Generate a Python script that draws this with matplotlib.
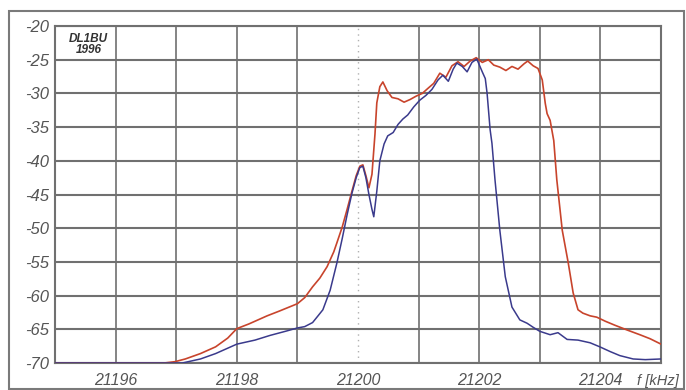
import matplotlib.pyplot as plt
from matplotlib.patches import Rectangle
from matplotlib.transforms import blended_transform_factory

# Spektrum rot (breit) und blau (schmal), f in kHz, Pegel in dB
f_rot = [21195.0, 21196.8, 21196.98, 21197.15, 21197.4, 21197.65, 21197.85, 21198.0,
         21198.2, 21198.5, 21198.7, 21199.0, 21199.12, 21199.25, 21199.37, 21199.49,
         21199.6, 21199.65, 21199.74, 21199.82, 21199.9, 21199.97, 21200.03, 21200.08,
         21200.13, 21200.18, 21200.23, 21200.28, 21200.31, 21200.36, 21200.41, 21200.48,
         21200.56, 21200.66, 21200.76, 21200.86, 21200.96, 21201.06, 21201.16, 21201.25,
         21201.35, 21201.45, 21201.55, 21201.65, 21201.75, 21201.85, 21201.95, 21202.05,
         21202.15, 21202.24, 21202.34, 21202.44, 21202.54, 21202.64, 21202.74, 21202.8,
         21202.89, 21202.97, 21203.04, 21203.09, 21203.12, 21203.17, 21203.23, 21203.28,
         21203.37, 21203.47, 21203.55, 21203.63, 21203.71, 21203.83, 21203.94, 21204.08,
         21204.24, 21204.44, 21204.65, 21204.82, 21205.0]
p_rot = [-70.0, -70.0, -69.8, -69.4, -68.6, -67.6, -66.3, -64.9,
         -64.2, -63.0, -62.3, -61.2, -60.3, -58.7, -57.4, -55.7,
         -53.5, -52.2, -49.8, -47.2, -44.5, -42.2, -40.8, -40.6,
         -42.2, -44.0, -42.0, -36.0, -31.4, -29.0, -28.3, -29.6,
         -30.6, -30.8, -31.3, -30.9, -30.4, -30.0, -29.2, -28.5,
         -27.0, -27.6, -25.9, -25.3, -26.0, -25.2, -24.7, -25.4,
         -25.0, -25.8, -26.1, -26.6, -26.0, -26.4, -25.6, -25.2,
         -25.9, -26.3, -28.0, -31.5, -33.0, -34.0, -37.0, -42.8,
         -50.3, -55.2, -59.6, -62.1, -62.6, -63.0, -63.2, -63.8,
         -64.4, -65.1, -65.8, -66.4, -67.2]

f_blau = [21195.0, 21197.1, 21197.4, 21197.65, 21198.0, 21198.3, 21198.55, 21198.8,
          21199.0, 21199.12, 21199.25, 21199.34, 21199.42, 21199.54, 21199.65, 21199.74,
          21199.82, 21199.9, 21199.97, 21200.03, 21200.08, 21200.13, 21200.18, 21200.23,
          21200.26, 21200.31, 21200.36, 21200.43, 21200.49, 21200.58, 21200.66, 21200.74,
          21200.82, 21200.92, 21201.02, 21201.12, 21201.22, 21201.32, 21201.4, 21201.49,
          21201.57, 21201.63, 21201.72, 21201.8, 21201.88, 21201.96, 21202.05, 21202.1,
          21202.13, 21202.18, 21202.21, 21202.26, 21202.34, 21202.43, 21202.54, 21202.67,
          21202.79, 21202.89, 21203.0, 21203.17, 21203.3, 21203.45, 21203.63, 21203.83,
          21203.99, 21204.16, 21204.32, 21204.54, 21204.74, 21205.0]
p_blau = [-70.0, -70.0, -69.4, -68.6, -67.2, -66.6, -65.9, -65.3,
          -64.8, -64.6, -64.0, -63.0, -62.1, -59.2, -55.2, -51.5,
          -48.0, -44.8, -42.5, -41.0, -40.8, -42.5, -45.0, -47.2,
          -48.3, -44.5, -40.0, -37.5, -36.3, -35.8, -34.6, -33.8,
          -33.2, -32.0, -31.0, -30.3, -29.4, -28.0, -27.3, -28.2,
          -26.4, -25.5, -26.0, -26.8, -25.4, -24.9, -26.8, -27.8,
          -30.0, -35.4, -37.4, -42.8, -50.3, -57.2, -61.7, -63.6,
          -64.1, -64.7, -65.3, -65.8, -65.5, -66.5, -66.6, -67.0,
          -67.6, -68.3, -68.9, -69.4, -69.5, -69.4]

x_ticks = [21196, 21198, 21200, 21202, 21204]
y_ticks = [-20, -25, -30, -35, -40, -45, -50, -55, -60, -65, -70]

schrift = ['Liberation Sans', 'DejaVu Sans']
grau = '#555555'
gitter = '#707070'

fig = plt.figure(figsize=(6.86, 3.90), dpi=100)
fig.patch.set_facecolor('white')
# Rahmen um das ganze Bild
fig.patches.append(Rectangle((0.013, 0.003), 0.984, 0.969, transform=fig.transFigure,
                             fill=False, edgecolor='#7a7a7a', linewidth=1.5))

ax = fig.add_axes([0.0802, 0.0692, 0.8834, 0.8641])
ax.set_xlim(21195, 21205)
ax.set_ylim(-70, -20)

# Gitter: jede kHz, 21200 gepunktet
for f in range(21196, 21205):
    if f == 21200:
        ax.axvline(f, color='#b0b0b0', linewidth=1.0, linestyle=(0, (1, 3)), zorder=1)
    else:
        ax.axvline(f, color=gitter, linewidth=1.2, zorder=1)
for p in y_ticks:
    ax.axhline(p, color=gitter, linewidth=1.5, zorder=1)
for s in ax.spines.values():
    s.set_color(gitter)
    s.set_linewidth(1.5)

ax.plot(f_rot, p_rot, color='#c8442c', linewidth=1.2, zorder=3)
ax.plot(f_blau, p_blau, color='#3a3a8c', linewidth=1.1, zorder=4)

ax.set_xticks(x_ticks)
ax.set_xticklabels([str(t) for t in x_ticks])
ax.set_yticks(y_ticks)
ax.set_yticklabels([str(t) for t in y_ticks])
ax.tick_params(length=0, colors=grau)
ax.tick_params(axis='x', pad=7)
ax.tick_params(axis='y', pad=4)
for lab in ax.get_xticklabels():
    lab.set_fontsize(11.5)
for lab in ax.get_yticklabels():
    lab.set_fontsize(12)
for lab in ax.get_xticklabels() + ax.get_yticklabels():
    lab.set_family(schrift)
    lab.set_style('italic')
    lab.set_color(grau)

trans = blended_transform_factory(ax.transData, ax.transAxes)
ax.text(21204.95, -0.052, 'f [kHz]', transform=trans, ha='center', va='center',
        family=schrift, style='italic', fontsize=10.5, color=grau)

ax.text(21195.55, -21.0, 'DL1BU\n1996', ha='center', va='top', family=schrift,
        style='italic', fontweight='bold', fontsize=8.5, color='#333333',
        linespacing=0.9, zorder=5)

fig.savefig('out.png', dpi=100, facecolor='white')
